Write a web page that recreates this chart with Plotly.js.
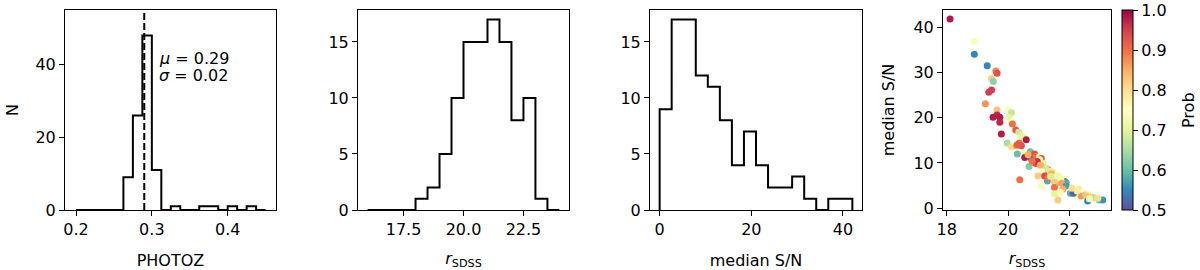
<!DOCTYPE html>
<html>
<head>
<meta charset="utf-8">
<script src="https://cdn.plot.ly/plotly-3.0.1.min.js"></script>
<style>html,body{margin:0;padding:0;background:#fff;}#chart{width:1200px;height:270px;}</style>
</head>
<body>
<div id="chart"></div>
<script>
// ---- Data ----
// PHOTOZ histogram (20 bins from 0.2 to 0.45)
const photozRange = [0.2, 0.45];
const photozCounts = [0,0,0,0,0,9,26,48,11,0,1,0,0,1,1,0,1,0,1,0];
const photozMean = 0.29;
const photozSigma = 0.02;

// r_SDSS histogram (16 bins from 16 to 24)
const rRange = [16, 24];
const rCounts = [0,0,0,0,1,2,5,10,15,15,17,15,8,10,1,0];

// median S/N histogram (16 bins from 0 to 42.05)
const snRange = [0, 42.05];
const snCounts = [9,17,17,12,11,8,4,7,4,2,2,3,1,0,1,1];

// Scatter: r_SDSS vs median S/N, coloured by Prob
const rMag = [18.11,18.90,18.90,19.32,19.60,19.64,19.46,19.52,19.46,19.37,
  19.26,19.64,20.00,20.11,19.64,19.51,19.73,20.03,19.73,20.11,
  20.14,19.78,20.25,20.35,20.43,20.51,20.59,19.97,20.36,20.43,
  20.11,20.27,20.30,20.30,20.54,20.72,20.54,20.72,20.86,20.92,
  21.03,21.08,21.03,20.65,20.83,20.90,20.68,21.14,21.30,20.95,
  21.22,21.05,20.78,21.35,21.10,21.45,20.97,20.38,21.19,21.28,
  21.41,21.46,21.65,21.68,21.84,21.89,21.55,21.60,21.72,21.30,
  21.50,21.38,21.75,21.08,21.51,21.51,21.89,21.78,22.03,22.19,
  22.30,22.43,22.38,22.52,22.13,22.08,22.25,22.60,21.70,22.55,
  21.62,22.59,22.74,22.86,22.97,23.08,22.80,22.65,22.92];
const medSN = [41.8,36.9,34.0,31.5,30.3,29.8,28.6,28.0,26.1,25.6,
  23.1,21.7,21.7,21.1,20.6,20.1,20.1,20.1,19.0,19.0,
  18.6,16.4,17.3,16.8,16.0,15.6,15.1,14.4,14.4,13.8,
  13.5,13.8,14.0,12.0,12.2,12.5,11.2,11.2,12.0,11.4,
  11.4,11.0,10.7,11.8,10.1,9.9,9.2,9.9,8.5,10.3,
  8.8,9.5,10.4,8.2,8.0,8.0,7.1,6.3,7.1,6.0,
  7.6,6.4,5.7,7.0,5.9,5.6,6.8,7.2,6.5,6.8,
  5.8,7.0,5.5,4.9,4.6,3.2,4.9,4.2,3.3,2.9,
  4.2,3.5,2.7,2.9,3.3,4.4,3.8,3.0,3.5,2.7,
  1.8,1.6,2.5,2.0,1.8,1.8,2.3,2.1,2.2];
const prob = [0.98,0.74,0.55,0.55,0.88,0.93,0.82,0.63,0.95,0.95,
  0.87,0.83,0.74,0.67,0.97,0.98,0.98,0.70,0.97,0.74,
  0.90,0.98,0.92,0.68,0.70,0.71,0.98,0.65,0.90,0.93,
  0.80,0.86,0.92,0.60,0.74,0.60,0.98,0.53,0.93,0.90,
  0.74,0.93,0.74,0.85,0.87,0.93,0.62,0.70,0.55,0.96,
  0.68,0.85,0.90,0.80,0.75,0.70,0.82,0.90,0.94,0.58,
  0.85,0.87,0.84,0.74,0.52,0.58,0.76,0.72,0.73,0.90,
  0.82,0.69,0.86,0.74,0.90,0.70,0.57,0.85,0.58,0.74,
  0.70,0.75,0.87,0.64,0.52,0.80,0.78,0.72,0.76,0.83,
  0.82,0.55,0.82,0.74,0.60,0.56,0.66,0.74,0.80];

// ---- Helpers ----
function edges(range, n) {
  const w = (range[1] - range[0]) / n;
  const e = [];
  for (let i = 0; i <= n; i++) e.push(range[0] + i * w);
  return e;
}
function stepPath(range, counts) {
  const e = edges(range, counts.length);
  const xs = [e[0]], ys = [0];
  for (let i = 0; i < counts.length; i++) { xs.push(e[i]); ys.push(counts[i]); }
  xs.push(e[counts.length]); ys.push(counts[counts.length - 1]);
  xs.push(e[counts.length]); ys.push(0);
  return {x: xs, y: ys};
}

const spectralR = [
  [0.0, '#5e4fa2'], [0.1, '#3288bd'], [0.2, '#66c2a5'], [0.3, '#abdda4'],
  [0.4, '#e6f598'], [0.5, '#ffffbf'], [0.6, '#fee08b'], [0.7, '#fdae61'],
  [0.8, '#f46d43'], [0.9, '#d53e4f'], [1.0, '#9e0142']
];

const p1 = stepPath(photozRange, photozCounts);
const p2 = stepPath(rRange, rCounts);
const p3 = stepPath(snRange, snCounts);

const FS = 16;
const font = {family: 'DejaVu Sans', size: FS, color: 'black'};

const lineStyle = {color: 'black', width: 2, shape: 'hv'};
const traces = [
  {type: 'scatter', mode: 'lines', x: p1.x, y: p1.y, xaxis: 'x', yaxis: 'y', line: lineStyle, hoverinfo: 'skip'},
  {type: 'scatter', mode: 'lines', x: [photozMean, photozMean], y: [0, 55], xaxis: 'x', yaxis: 'y',
   line: {color: 'black', width: 2, dash: '7px,3px'}, hoverinfo: 'skip'},
  {type: 'scatter', mode: 'lines', x: p2.x, y: p2.y, xaxis: 'x2', yaxis: 'y2', line: lineStyle, hoverinfo: 'skip'},
  {type: 'scatter', mode: 'lines', x: p3.x, y: p3.y, xaxis: 'x3', yaxis: 'y3', line: lineStyle, hoverinfo: 'skip'},
  {type: 'scatter', mode: 'markers', x: rMag, y: medSN, xaxis: 'x4', yaxis: 'y4',
   marker: {size: 7, color: prob, colorscale: spectralR, cmin: 0.5, cmax: 1.0, line: {width: 0},
     colorbar: {
       x: 1122/1200, xanchor: 'left', xpad: 0, ypad: 0,
       y: (270-110)/270, yanchor: 'middle',
       len: 200, lenmode: 'pixels', thickness: 11, thicknessmode: 'pixels',
       outlinewidth: 1, outlinecolor: 'black',
       ticks: 'outside', ticklen: 5, tickwidth: 1, tickcolor: 'black',
       tickvals: [0.5, 0.6, 0.7, 0.8, 0.9, 1.0], tickformat: '.1f',
       tickfont: font
     }},
   hoverinfo: 'skip'}
];

const yDom = [60/270, 260/270];
function ax(domain, range, tickvals, ticktext, title, anchor, standoff) {
  const a = {
    domain: domain, range: range, anchor: anchor,
    showline: true, mirror: true, linecolor: 'black', linewidth: 1,
    showgrid: false, zeroline: false,
    ticks: 'outside', ticklen: 5, tickwidth: 1, tickcolor: 'black',
    tickvals: tickvals, ticktext: ticktext, tickfont: font,
    fixedrange: true
  };
  if (title) a.title = {text: title, font: font, standoff: standoff};
  return a;
}

const layout = {
  width: 1200, height: 270,
  margin: {l: 0, r: 0, t: 0, b: 0},
  paper_bgcolor: 'white', plot_bgcolor: 'white',
  showlegend: false, font: font,
  xaxis: ax([65/1200, 276/1200], [0.1855, 0.4637], [0.2, 0.3, 0.4], ['0.2', '0.3', '0.4'], 'PHOTOZ', 'y', 18),
  yaxis: ax(yDom, [0, 55], [0, 20, 40], ['0', '20', '40'], 'N', 'x', 12),
  xaxis2: ax([358/1200, 569/1200], [15.6, 24.4], [17.5, 20, 22.5], ['17.5', '20.0', '22.5'], '<i>r</i><sub>SDSS</sub>', 'y2', 14),
  yaxis2: ax(yDom, [0, 17.85], [0, 5, 10, 15], ['0', '5', '10', '15'], null, 'x2'),
  xaxis3: ax([650/1200, 862/1200], [-2.1, 44.15], [0, 20, 40], ['0', '20', '40'], 'median S/N', 'y3', 18),
  yaxis3: ax(yDom, [0, 17.85], [0, 5, 10, 15], ['0', '5', '10', '15'], null, 'x3'),
  xaxis4: ax([943/1200, 1111/1200], [17.88, 23.35], [18, 20, 22], ['18', '20', '22'], '<i>r</i><sub>SDSS</sub>', 'y4', 14),
  yaxis4: ax(yDom, [-0.4, 43.8], [0, 10, 20, 30, 40], ['0', '10', '20', '30', '40'], 'median S/N', 'x4', 14),
  annotations: [
    {xref: 'x', yref: 'y', x: 0.3065, y: 41.7, xanchor: 'left', yanchor: 'middle', showarrow: false,
     text: '<i>μ</i> = ' + photozMean.toFixed(2), font: font},
    {xref: 'x', yref: 'y', x: 0.3065, y: 36.9, xanchor: 'left', yanchor: 'middle', showarrow: false,
     text: '<i>σ</i> = ' + photozSigma.toFixed(2), font: font},
    {xref: 'paper', yref: 'paper', x: 1188/1200, y: (270-110)/270, xanchor: 'center', yanchor: 'middle',
     showarrow: false, textangle: -90, text: 'Prob', font: font}
  ]
};

Plotly.newPlot('chart', traces, layout, {staticPlot: true, displayModeBar: false});
</script>
</body>
</html>
